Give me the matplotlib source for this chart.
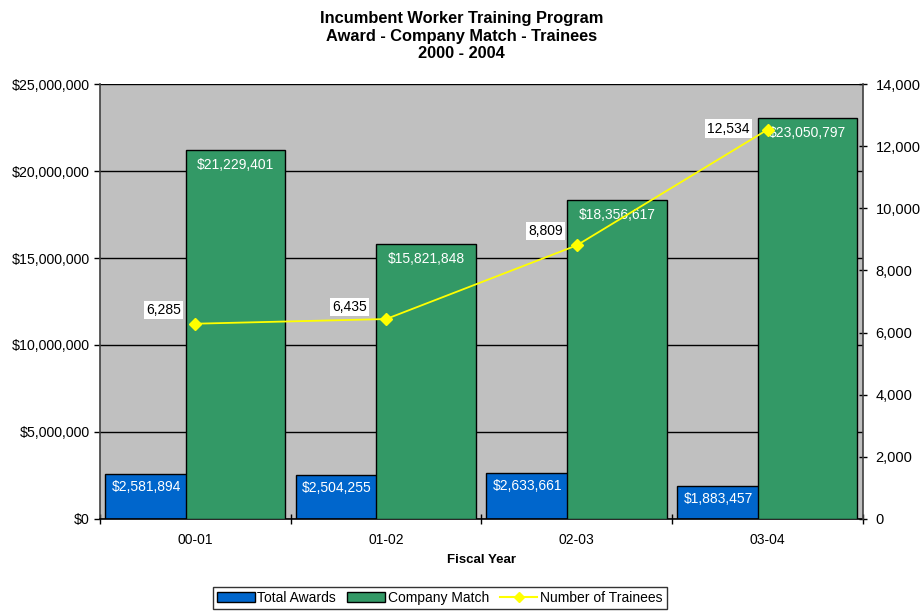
"""Incumbent Worker Training Program: awards, company match and trainees."""

import matplotlib
matplotlib.use("Agg")
import matplotlib.pyplot as plt
from matplotlib.patches import Patch
from matplotlib.lines import Line2D
from matplotlib.ticker import FuncFormatter, MultipleLocator
import numpy as np

plt.rcParams["font.family"] = ["Liberation Sans", "DejaVu Sans"]

fiscal_years = ["00-01", "01-02", "02-03", "03-04"]
total_awards = [2581894, 2504255, 2633661, 1883457]
company_match = [21229401, 15821848, 18356617, 23050797]
trainees = [6285, 6435, 8809, 12534]

BLUE = "#0066CC"
GREEN = "#339966"
YELLOW = "#FFFF00"
PLOT_BG = "#C0C0C0"

# label offsets for trainee labels (pixels, dx, dy)
trainee_offsets = [(-14, 14), (-19, 12), (-14, 14), (-18, 1)]

fig = plt.figure(figsize=(9.23, 6.11), dpi=100)
ax = fig.add_axes([0.1083, 0.1506, 0.935 - 0.1083, 0.8625 - 0.1506])
ax.set_facecolor(PLOT_BG)

x = np.arange(len(fiscal_years))
w = 0.522
blue_x = x - 0.213
green_x = x + 0.21

ax.bar(blue_x, total_awards, width=w, color=BLUE, edgecolor="black",
       linewidth=1, zorder=2)
ax.bar(green_x, company_match, width=w, color=GREEN, edgecolor="black",
       linewidth=1, zorder=3)

ax.set_xlim(-0.5, len(fiscal_years) - 0.5)
ax.set_ylim(0, 25_000_000)
ax.yaxis.set_major_locator(MultipleLocator(5_000_000))
ax.yaxis.set_major_formatter(FuncFormatter(lambda v, _: f"${v:,.0f}"))
ax.grid(axis="y", color="black", linewidth=1, zorder=1)
ax.set_axisbelow(True)

ax.set_xticks(x)
ax.set_xticklabels(fiscal_years)
ax.set_xticks(np.arange(len(fiscal_years) + 1) - 0.5, minor=True)
ax.tick_params(axis="x", which="major", length=0, pad=10, labelsize=10)
ax.tick_params(axis="x", which="minor", length=7, direction="inout", width=1)
ax.tick_params(axis="y", which="major", length=4, direction="out",
               labelsize=10.2, width=1)
for s in ["top", "right"]:
    ax.spines[s].set_visible(False)
ax.spines["left"].set_color("#404040")
ax.spines["left"].set_linewidth(1.2)
ax.spines["bottom"].set_linewidth(1.2)

# bar value labels
for xb, v in zip(blue_x, total_awards):
    ax.annotate(f"${v:,}", (xb - 0.045, v), xytext=(0, -4),
                textcoords="offset points", ha="center", va="top",
                color="white", fontsize=10, zorder=5)
for xg, v in zip(green_x, company_match):
    ax.annotate(f"${v:,}", (xg, v), xytext=(0, -6),
                textcoords="offset points", ha="center", va="top",
                color="white", fontsize=10, zorder=5)

ax2 = ax.twinx()
ax2.set_ylim(0, 14000)
ax2.yaxis.set_major_locator(MultipleLocator(2000))
ax2.yaxis.set_major_formatter(FuncFormatter(lambda v, _: f"{v:,.0f}"))
ax2.tick_params(axis="y", length=6, direction="inout", labelsize=10.5,
                width=1, pad=6)
for s in ["top", "left", "bottom"]:
    ax2.spines[s].set_visible(False)
ax2.spines["right"].set_color("#404040")
ax2.spines["right"].set_linewidth(1.2)

ax2.plot(x, trainees, color=YELLOW, linewidth=1.3, marker="D",
         markersize=6, markerfacecolor=YELLOW, markeredgecolor=YELLOW,
         zorder=4)
for xi, v, (dx, dy) in zip(x, trainees, trainee_offsets):
    ax2.annotate(f"{v:,}", (xi, v), xytext=(dx * 0.72, dy * 0.72),
                 textcoords="offset points", ha="right", va="center",
                 fontsize=10, color="black",
                 bbox=dict(boxstyle="square,pad=0.15", fc="white",
                           ec="none"))

fig.text(0.5, 0.982, "Incumbent Worker Training Program\n"
         "Award - Company Match - Trainees\n2000 - 2004",
         ha="center", va="top", fontsize=11.8, fontweight="bold",
         linespacing=1.22)

ax.set_xlabel("Fiscal Year", fontsize=9.5, fontweight="bold", labelpad=5)

handles = [
    Patch(facecolor=BLUE, edgecolor="black", label="Total Awards"),
    Patch(facecolor=GREEN, edgecolor="black", label="Company Match"),
    Line2D([0], [0], color=YELLOW, marker="D", markersize=5,
           label="Number of Trainees"),
]
leg = fig.legend(handles=handles, loc="center", bbox_to_anchor=(0.4767, 0.021),
                 ncol=3, frameon=True, fancybox=False, fontsize=10,
                 handlelength=2.7, handleheight=0.7, handletextpad=0.2,
                 columnspacing=0.8, borderpad=0.3)
leg.get_frame().set_edgecolor("black")
leg.get_frame().set_linewidth(1)

fig.savefig("out.png", dpi=100)
